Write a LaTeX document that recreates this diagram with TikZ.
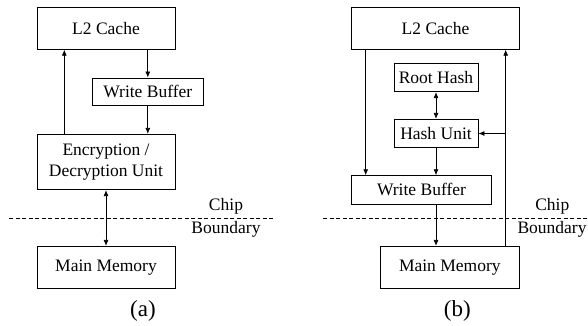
\documentclass[tikz,border=0pt]{standalone}
\usepackage{fontspec}
\setmainfont{Liberation Serif}
\usetikzlibrary{arrows.meta}
\begin{document}
\begin{tikzpicture}[x=1pt,y=-1pt,
  box/.style={draw, line width=0.8pt, inner sep=0pt, align=center, font=\fontsize{17.5}{21}\selectfont},
  arr/.style={line width=0.8pt, -{Latex[length=6pt,width=5pt]}},
  darr/.style={line width=0.8pt, {Latex[length=6pt,width=5pt]}-{Latex[length=6pt,width=5pt]}},
  bline/.style={line width=0.8pt, dash pattern=on 4pt off 2.5pt},
  lbl/.style={inner sep=0pt, font=\fontsize{17.5}{21}\selectfont},
  subcap/.style={inner sep=0pt, font=\fontsize{23}{27}\selectfont}]
\useasboundingbox (0,0) rectangle (588,326);
% panel (a)
\node[box, minimum width=138pt, minimum height=42pt] (L2a) at (106,28.3) {L2 Cache};
\node[box, minimum width=111pt, minimum height=27.7pt] (WBa) at (147.8,91.8) {Write Buffer};
\node[box, minimum width=138pt, minimum height=55.4pt] (ENCa) at (106,162) {Encryption /\\Decryption Unit};
\node[box, minimum width=138pt, minimum height=42pt] (MMa) at (106,267.3) {Main Memory};
\draw[arr] (WBa.north |- L2a.south) -- (WBa.north);
\draw[arr] (WBa.south) -- (WBa.south |- ENCa.north);
\draw[arr] ([xshift=-41.7pt]ENCa.north) -- ([xshift=-41.7pt]ENCa.north |- L2a.south);
\draw[darr] (ENCa.south) -- (MMa.north);
\coordinate (da1) at (9,218);
\coordinate (da2) at (272.7,218);
\draw[bline] (da1) -- (da2);
\node[lbl] (chipa) at (226,206) {Chip};
\node[lbl] (bnda) at (226,229) {Boundary};
\node[subcap] (capa) at (143,311) {(a)};
% panel (b)
\node[box, minimum width=168.4pt, minimum height=42pt] (L2b) at (435.5,28.3) {L2 Cache};
\node[box, minimum width=84pt, minimum height=28.4pt] (RH) at (436,77.5) {Root Hash};
\node[box, minimum width=84pt, minimum height=28.4pt] (HU) at (436,133.5) {Hash Unit};
\node[box, minimum width=140.4pt, minimum height=28.3pt] (WBb) at (421.5,189.8) {Write Buffer};
\node[box, minimum width=139.7pt, minimum height=42pt] (MMb) at (449.8,267.3) {Main Memory};
\draw[arr] ([xshift=-69.8pt]L2b.south) -- ([xshift=-69.8pt]L2b.south |- WBb.north);
\draw[darr] (RH.south) -- (HU.north);
\draw[arr] (HU.south) -- (HU.south |- WBb.north);
\draw[arr] (HU.south |- WBb.south) -- (HU.south |- MMb.north);
\coordinate (rt) at ([xshift=55.9pt]MMb.north);
\draw[arr] (rt) -- (rt |- L2b.south);
\draw[arr] (rt |- HU.east) -- (HU.east);
\coordinate (db1) at (323.3,218);
\coordinate (db2) at (588,218);
\draw[bline] (db1) -- (db2);
\node[lbl] (chipb) at (552.3,206) {Chip};
\node[lbl] (bndb) at (552,229) {Boundary};
\node[subcap] (capb) at (457.3,311) {(b)};
\end{tikzpicture}
\end{document}
